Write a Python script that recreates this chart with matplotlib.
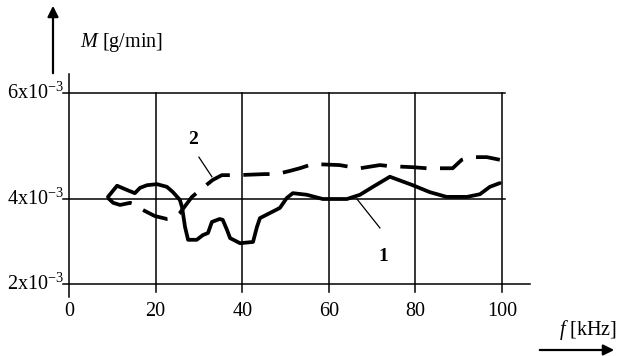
import numpy as np
import matplotlib
matplotlib.use("Agg")
import matplotlib.pyplot as plt
from matplotlib.patches import FancyArrowPatch

plt.rcParams['font.family'] = ['Liberation Serif', 'DejaVu Serif']
plt.rcParams['mathtext.fontset'] = 'custom'
plt.rcParams['mathtext.rm'] = 'Liberation Serif'
plt.rcParams['mathtext.it'] = 'Liberation Serif:italic'

# ---- data (M in units of 10^-3 g/min, f in kHz) ----
f1 = [9.0, 11.1, 13.4, 15.2, 16.4, 18.0, 20.3, 22.6, 24.0, 25.6, 26.1, 26.8, 27.5,
      29.5, 30.9, 32.1, 33.0, 34.8, 35.5, 36.5, 37.2, 39.5, 42.5, 43.4, 44.1, 46.4,
      48.7, 50.3, 51.7, 54.9, 58.6, 64.2, 67.2, 70.2, 74.1, 79.4, 83.3, 87.2, 91.9,
      94.9, 97.2, 99.5]
m1 = [4.04, 4.25, 4.17, 4.11, 4.21, 4.26, 4.28, 4.23, 4.13, 3.98, 3.81, 3.34, 3.04,
      3.04, 3.15, 3.20, 3.46, 3.53, 3.51, 3.27, 3.08, 2.96, 2.99, 3.34, 3.55, 3.67,
      3.79, 4.02, 4.11, 4.08, 4.00, 4.00, 4.08, 4.23, 4.42, 4.26, 4.13, 4.04, 4.04,
      4.09, 4.23, 4.30]
f2 = [9.0, 10.2, 11.8, 14.1, 15.7, 17.1, 19.8, 22.6, 24.2, 25.6, 27.0, 28.4, 30.9,
      33.2, 35.3, 39.0, 45.2, 48.0, 51.0, 53.3, 56.3, 62.5, 65.3, 67.2, 71.8, 74.1,
      79.4, 82.6, 88.6, 90.7, 92.5, 96.5, 99.5]
m2 = [4.02, 3.91, 3.86, 3.91, 3.86, 3.74, 3.60, 3.53, 3.55, 3.67, 3.86, 4.04, 4.21,
      4.36, 4.45, 4.45, 4.47, 4.47, 4.53, 4.58, 4.66, 4.64, 4.60, 4.58, 4.64, 4.62,
      4.60, 4.58, 4.58, 4.74, 4.79, 4.79, 4.74]
x_ticks = [0, 20, 40, 60, 80, 100]
y_ticks = [2, 4, 6]
y_tick_labels = ['2x10$^{-3}$', '4x10$^{-3}$', '6x10$^{-3}$']

# piecewise-linear y scale (the hand-drawn grid is uneven)
def fwd(y):
    y = np.asarray(y, dtype=float)
    return np.where(y >= 4, 85 + (y - 4) * 53.0, (y - 2) * 42.5)

def inv(v):
    v = np.asarray(v, dtype=float)
    return np.where(v >= 85, 4 + (v - 85) / 53.0, 2 + v / 42.5)

W, H = 622, 356
fig = plt.figure(figsize=(W / 100, H / 100), dpi=100)
ax = fig.add_axes([69 / W, (H - 284) / H, (502 - 69) / W, (284 - 93) / H])
ax.set_yscale('function', functions=(fwd, inv))
ax.set_xlim(0, 100)
ax.set_ylim(2, 6)
ax.axis('off')

gl = 1.1
xt = ax.get_xaxis_transform()
# horizontal grid lines
for yv in y_ticks:
    xr = 106.4 if yv == 2 else 100.7
    ax.plot([-1.5, xr], [yv, yv], color='black', lw=gl, clip_on=False)
# vertical grid lines
for xv in x_ticks[1:]:
    ax.plot([xv, xv], [-8 / 191, 1], color='black', lw=gl, transform=xt, clip_on=False)
# y axis line
ax.plot([0, 0], [-13 / 191, 1 + 19 / 191], color='black', lw=gl, transform=xt, clip_on=False)

# curves
ax.plot(f1, m1, color='black', lw=2.7, solid_capstyle='round', solid_joinstyle='round',
        clip_on=False)
ax.plot(f2, m2, color='black', lw=2.7, linestyle=(0, (7, 3.6)), dash_capstyle='butt',
        clip_on=False)

# leader lines and curve labels
ax.plot([30.0, 33.0], [4.79, 4.42], color='black', lw=0.9)
ax.plot([66.5, 71.8], [4.0, 3.32], color='black', lw=0.9)
ax.text(28.6, 5.13, '2', fontsize=14, fontweight='bold', ha='center', va='center')
ax.text(72.5, 2.64, '1', fontsize=14, fontweight='bold', ha='center', va='center')

# tick labels
for xv in x_ticks:
    ax.text(xv, -27 / 191, str(xv), transform=xt, ha='center', va='center', fontsize=14.5)
for yv, lab in zip(y_ticks, y_tick_labels):
    ax.annotate(lab, xy=(0, yv), xytext=(-5, -6), textcoords='offset pixels',
                ha='right', va='baseline', fontsize=14.5)

# axis labels
fig.text(80 / W, (H - 42) / H, '$M$ [g/min]', ha='left', va='center', fontsize=14.5)
fig.text(617 / W, (H - 330) / H, '$f$ [kHz]', ha='right', va='center', fontsize=14.5)

# arrows
fig.patches.append(FancyArrowPatch((53 / W, (H - 76) / H), (53 / W, (H - 3) / H),
                                   transform=fig.transFigure, arrowstyle='-|>',
                                   mutation_scale=16, lw=1.6, color='black'))
fig.patches.append(FancyArrowPatch((537 / W, (H - 350) / H), (617 / W, (H - 350) / H),
                                   transform=fig.transFigure, arrowstyle='-|>',
                                   mutation_scale=16, lw=1.6, color='black'))

fig.savefig('out.png', dpi=100, facecolor='white')
